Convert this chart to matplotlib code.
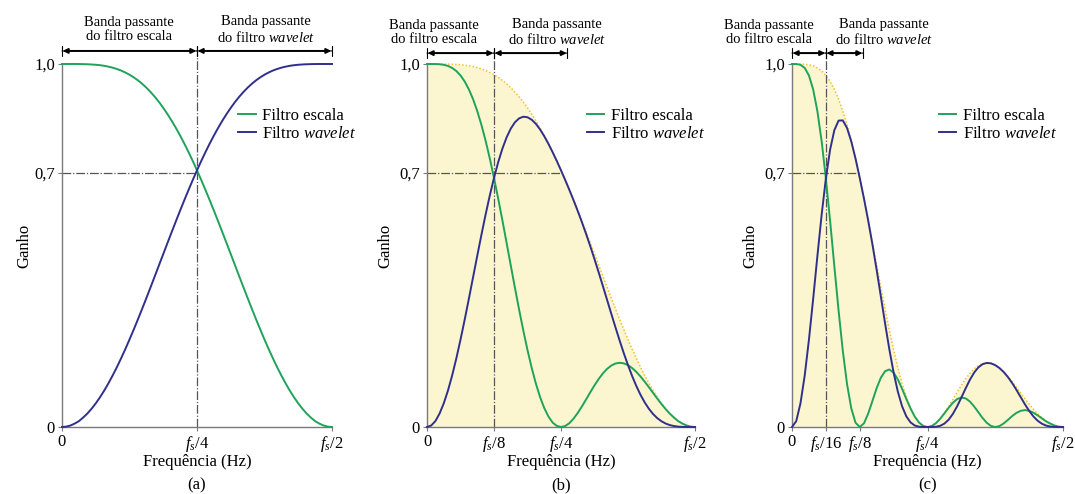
import numpy as np
import matplotlib.pyplot as plt

plt.rcParams['font.family'] = ['Liberation Serif', 'DejaVu Serif']
plt.rcParams['mathtext.fontset'] = 'custom'
plt.rcParams['mathtext.rm'] = 'Liberation Serif'
plt.rcParams['mathtext.it'] = 'Liberation Serif:italic'
plt.rcParams['font.size'] = 12

# frequency as a fraction of fs, from 0 to fs/2 (steps of fs/128)
freq = np.arange(65) / 128

# (a) one level
scale_a = [1.0, 1.0, 1.0, 1.0, 0.9999, 0.9997, 0.9993, 0.9987, 0.9979, 0.9967, 0.9950,
           0.9927, 0.9899, 0.9863, 0.9820, 0.9767, 0.9705, 0.9633, 0.9550, 0.9455, 0.9348,
           0.9228, 0.9096, 0.8951, 0.8792, 0.8620, 0.8436, 0.8238, 0.8028, 0.7806, 0.7572,
           0.7327, 0.7071, 0.6806, 0.6532, 0.6251, 0.5963, 0.5669, 0.5370, 0.5069, 0.4764,
           0.4460, 0.4155, 0.3852, 0.3552, 0.3257, 0.2967, 0.2684, 0.2410, 0.2144, 0.1890,
           0.1647, 0.1418, 0.1203, 0.1002, 0.0818, 0.0651, 0.0501, 0.0370, 0.0258, 0.0161,
           0.0094, 0.0041, 0.0010, 0.0]
wavelet_a = [0.0, 0.0010, 0.0041, 0.0094, 0.0161, 0.0258, 0.0370, 0.0501, 0.0651, 0.0818,
             0.1002, 0.1203, 0.1418, 0.1647, 0.1890, 0.2144, 0.2410, 0.2684, 0.2967, 0.3257,
             0.3552, 0.3852, 0.4155, 0.4460, 0.4764, 0.5069, 0.5370, 0.5669, 0.5963, 0.6251,
             0.6532, 0.6806, 0.7071, 0.7327, 0.7572, 0.7806, 0.8028, 0.8238, 0.8436, 0.8620,
             0.8792, 0.8951, 0.9096, 0.9228, 0.9348, 0.9455, 0.9550, 0.9633, 0.9705, 0.9767,
             0.9820, 0.9863, 0.9899, 0.9927, 0.9950, 0.9967, 0.9979, 0.9987, 0.9993, 0.9997,
             0.9999, 1.0, 1.0, 1.0, 1.0]

# (b) two levels, the dotted bound is the first level scale filter
bound_b = scale_a
scale_b = [1.0, 1.0, 0.9999, 0.9993, 0.9978, 0.9947, 0.9892, 0.9807, 0.9685, 0.9518, 0.9301,
           0.9030, 0.8703, 0.8320, 0.7883, 0.7396, 0.6862, 0.6292, 0.5695, 0.5077, 0.4453,
           0.3834, 0.3231, 0.2656, 0.2119, 0.1629, 0.1196, 0.0825, 0.0523, 0.0289, 0.0122,
           0.0030, 0.0, 0.0028, 0.0105, 0.0231, 0.0388, 0.0568, 0.0761, 0.0958, 0.1148,
           0.1323, 0.1476, 0.1600, 0.1692, 0.1749, 0.1769, 0.1753, 0.1704, 0.1623, 0.1517,
           0.1389, 0.1247, 0.1094, 0.0937, 0.0781, 0.0632, 0.0492, 0.0366, 0.0257, 0.0161,
           0.0094, 0.0041, 0.0010, 0.0]
wavelet_b = [0.0, 0.0041, 0.0161, 0.0370, 0.0651, 0.1002, 0.1417, 0.1888, 0.2405, 0.2957,
             0.3534, 0.4125, 0.4716, 0.5296, 0.5856, 0.6380, 0.6862, 0.7294, 0.7667, 0.7976,
             0.8219, 0.8394, 0.8503, 0.8548, 0.8533, 0.8465, 0.8351, 0.8197, 0.8011, 0.7801,
             0.7571, 0.7327, 0.7071, 0.6806, 0.6531, 0.6247, 0.5950, 0.5641, 0.5316, 0.4978,
             0.4623, 0.4259, 0.3884, 0.3504, 0.3123, 0.2748, 0.2382, 0.2032, 0.1704, 0.1400,
             0.1127, 0.0884, 0.0676, 0.0500, 0.0356, 0.0243, 0.0157, 0.0095, 0.0052, 0.0026,
             0.0010, 0.0003, 0.0001, 0.0, 0.0]

# (c) three levels, the dotted bound is the second level scale filter
bound_c = scale_b
scale_c = [1.0, 0.9999, 0.9978, 0.9892, 0.9684, 0.9298, 0.8697, 0.7873, 0.6848, 0.5676,
           0.4431, 0.3207, 0.2097, 0.1180, 0.0513, 0.0119, 0.0, 0.0101, 0.0371, 0.0720,
           0.1073, 0.1362, 0.1539, 0.1584, 0.1498, 0.1308, 0.1052, 0.0771, 0.0508, 0.0286,
           0.0122, 0.0030, 0.0, 0.0028, 0.0105, 0.0229, 0.0377, 0.0531, 0.0669, 0.0769,
           0.0812, 0.0789, 0.0703, 0.0568, 0.0408, 0.0248, 0.0115, 0.0028, 0.0, 0.0026,
           0.0099, 0.0197, 0.0301, 0.0389, 0.0446, 0.0466, 0.0447, 0.0395, 0.0322, 0.0240,
           0.0156, 0.0093, 0.0041, 0.0010, 0.0]
wavelet_c = [0.0, 0.0161, 0.0651, 0.1417, 0.2405, 0.3533, 0.4713, 0.5848, 0.6848, 0.7641,
             0.8177, 0.8441, 0.8446, 0.8236, 0.7866, 0.7395, 0.6862, 0.6291, 0.5683, 0.5026,
             0.4322, 0.3584, 0.2841, 0.2132, 0.1498, 0.0971, 0.0570, 0.0293, 0.0126, 0.0041,
             0.0008, 0.0, 0.0, 0.0, 0.0007, 0.0033, 0.0094, 0.0202, 0.0363, 0.0571,
             0.0812, 0.1062, 0.1298, 0.1496, 0.1642, 0.1731, 0.1765, 0.1753, 0.1704, 0.1623,
             0.1514, 0.1375, 0.1210, 0.1023, 0.0824, 0.0627, 0.0447, 0.0293, 0.0174, 0.0091,
             0.0039, 0.0013, 0.0003, 0.0, 0.0]

xticks_a = [0, 0.25, 0.5]
xlabels_a = ['0', '$f_s/4$', '$f_s/2$']
xticks_b = [0, 0.125, 0.25, 0.5]
xlabels_b = ['0', '$f_s/8$', '$f_s/4$', '$f_s/2$']
xticks_c = [0, 0.0625, 0.125, 0.25, 0.5]
xlabels_c = ['0', '$f_s/16$', '$f_s/8$', '$f_s/4$', '$f_s/2$']

GREEN = '#1fa35b'
BLUE = '#30308c'
FILL = '#fcf6d0'
BOUND = '#f2c12c'
REF = '#555555'
SPINE = '#7a7a7a'

fig = plt.figure(figsize=(10.75, 4.94), dpi=100)


def panel(rect, scale, wavelet, bound, xticks, xlabels, split, hline_end,
          arrow_end, text_x, text_y, arrow_y, leg_x, ylab_x, letter):
    ax = fig.add_axes(rect)
    if bound is not None:
        ax.fill_between(freq, 0, bound, color=FILL, lw=0, zorder=0)
        ax.plot(freq, bound, color=BOUND, lw=1.1, ls=(0, (1, 1.3)), zorder=1, clip_on=False)

    # cut-off guides
    ax.plot([split, split], [0, arrow_y - 0.012], color=REF, lw=0.9,
            ls=(0, (7, 1.5, 1, 1.5)), zorder=2, clip_on=False)
    ax.plot([0, hline_end], [0.7, 0.7], color=REF, lw=0.9,
            ls=(0, (7, 1.5, 1, 1.5)), zorder=2)

    ax.plot(freq, scale, color=GREEN, lw=1.4, zorder=3, clip_on=False, label='Filtro escala')
    ax.plot(freq, wavelet, color=BLUE, lw=1.4, zorder=3, clip_on=False,
            label='Filtro $\\mathit{wavelet}$')

    ax.set_xlim(0, 0.5)
    ax.set_ylim(0, 1)
    for s in ['top', 'right']:
        ax.spines[s].set_visible(False)
    for s in ['left', 'bottom']:
        ax.spines[s].set_color(SPINE)
        ax.spines[s].set_linewidth(1.0)
    ax.set_xticks(xticks)
    ax.set_xticklabels(xlabels)
    ax.set_yticks([0, 0.7, 1.0])
    ax.set_yticklabels(['0', '0,7', '1,0'])
    ax.tick_params(length=3, width=0.8, color=SPINE, pad=2, labelsize=12)

    ax.set_xlabel('Frequência (Hz)', fontsize=12)
    ax.xaxis.set_label_coords(0.5, -0.096)
    ax.xaxis.label.set_va('center')
    ax.set_ylabel('Ganho', fontsize=12)
    ax.yaxis.set_label_coords(ylab_x, 0.5)
    ax.yaxis.label.set_va('center')
    ax.text(0.5, -0.16, '(' + letter + ')', transform=ax.transAxes,
            ha='center', va='center', fontsize=12)

    # pass bands above the plot
    trans = ax.get_xaxis_transform()
    for x0, x1 in [(0, split), (split, arrow_end)]:
        ax.annotate('', xy=(x1, arrow_y), xytext=(x0, arrow_y), xycoords=trans,
                    arrowprops=dict(arrowstyle='<|-|>', color='black', lw=1.4,
                                    mutation_scale=7, shrinkA=0.5, shrinkB=0.5))
        ax.annotate('', xy=(x1, arrow_y), xytext=(x0, arrow_y), xycoords=trans,
                    arrowprops=dict(arrowstyle='|-|, widthA=0.35, widthB=0.35',
                                    color='black', lw=0.8, mutation_scale=10,
                                    shrinkA=0, shrinkB=0))
    ax.text(text_x[0], text_y, 'Banda passante\ndo filtro escala', transform=trans,
            ha='center', va='center', fontsize=10.5, linespacing=1.12)
    ax.text(text_x[1], text_y, 'Banda passante\ndo filtro $\\mathit{wavelet}$',
            transform=trans, ha='center', va='center', fontsize=10.5, linespacing=1.12)

    ax.legend(loc='upper left', bbox_to_anchor=(leg_x, 0.88), frameon=False,
              borderpad=0, borderaxespad=0, handlelength=1.05, handletextpad=0.4,
              labelspacing=0.15, fontsize=12)
    return ax


panel([62 / 1075, 67 / 494, 270 / 1075, 363 / 494], scale_a, wavelet_a, None,
      xticks_a, xlabels_a, 0.25, 0.25, 0.5, (0.124, 0.378), 1.094, 1.036, 0.652, -0.14, 'a')
panel([427 / 1075, 67 / 494, 268 / 1075, 363 / 494], scale_b, wavelet_b, bound_b,
      xticks_b, xlabels_b, 0.125, 0.25, 0.262, (0.013, 0.2425), 1.087, 1.030, 0.597, -0.157, 'b')
panel([792 / 1075, 67 / 494, 271 / 1075, 363 / 494], scale_c, wavelet_c, bound_c,
      xticks_c, xlabels_c, 0.0625, 0.125, 0.131, (-0.042, 0.170), 1.087, 1.030, 0.542, -0.155, 'c')

plt.savefig('out.png', dpi=100)
